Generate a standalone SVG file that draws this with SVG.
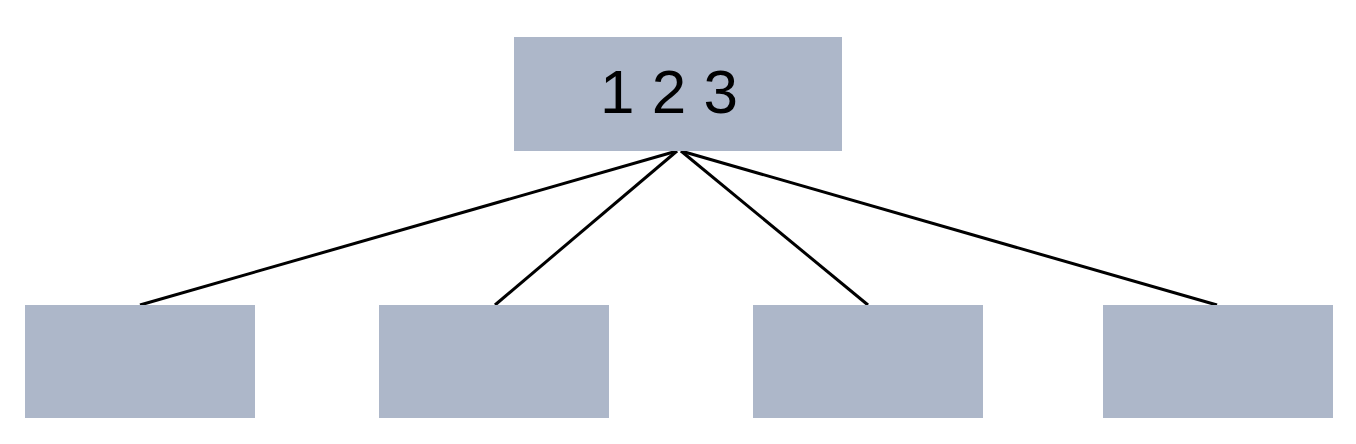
<svg xmlns="http://www.w3.org/2000/svg" width="1356" height="444" viewBox="0 0 1356 444">
<style>
.box{fill:#adb7c9}
.edge{stroke:#000;stroke-width:3;fill:none}
.lbl{font-family:"Liberation Sans",Arial,sans-serif;font-size:62px;fill:#000}
</style>
<rect width="1356" height="444" fill="#fff"/>
<g id="connectors">
<line class="edge" x1="677" y1="151" x2="140" y2="305"/>
<line class="edge" x1="677" y1="151" x2="495" y2="305"/>
<line class="edge" x1="681" y1="151" x2="868" y2="305"/>
<line class="edge" x1="681" y1="151" x2="1217" y2="305"/>
</g>
<g id="root">
<rect class="box" x="514" y="37" width="328" height="114"/>
<text class="lbl" x="669" y="113" text-anchor="middle">1 2 3</text>
</g>
<g id="child1"><rect class="box" x="25" y="305" width="230" height="113"/></g>
<g id="child2"><rect class="box" x="379" y="305" width="230" height="113"/></g>
<g id="child3"><rect class="box" x="753" y="305" width="230" height="113"/></g>
<g id="child4"><rect class="box" x="1103" y="305" width="230" height="113"/></g>
</svg>
